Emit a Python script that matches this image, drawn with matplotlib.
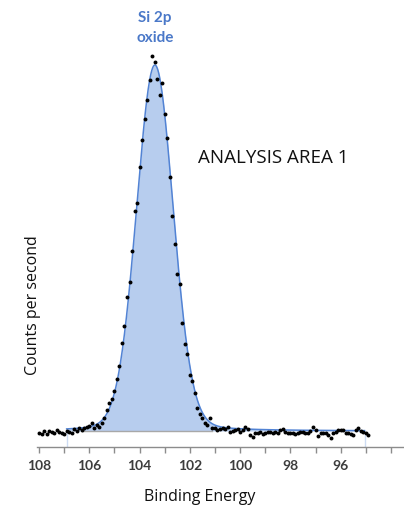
import numpy as np
import matplotlib.pyplot as plt

# Si 2p spectrum, 0.1 eV steps from 108.0 down to 94.9 eV
energy = [round(108.0 - 0.1 * i, 1) for i in range(132)]
counts = [
    358, 325, 408, 325, 393, 383, 358, 425, 375, 343,
    325, 408, 383, 350, 443, 408, 468, 425, 468, 493,
    525, 588, 468, 550, 508, 593,
    718, 925, 1108, 1208, 1393, 1693, 2033, 2608, 3025, 3743,
    4133, 4900, 5900, 6108, 6993, 7683, 8193, 8683, 9175, 9775,
    9625, 9200, 8808, 9108, 8318, 7725, 6743, 5783, 5075, 4325,
    4068, 3100, 2575, 2325, 1793, 1658, 1343, 968, 818, 718,
    608, 550, 733, 475, 468,
    425, 438, 468, 450, 508, 383, 400, 425, 443, 383,
    425, 508, 443, 300, 258, 358, 343, 375, 325, 358,
    383, 363, 343, 383, 358, 413, 443, 383, 343, 358,
    338, 325, 358, 375, 383, 358, 343, 400, 508, 425,
    275, 343, 358, 338, 300, 218, 343, 383, 413, 425,
    425, 358, 338, 325, 300, 425, 468, 408, 363, 343,
    300,
]

# fitted oxide component (Gaussian/Lorentzian sum) on a flat background
region = (106.9, 95.05)
bg_level = 400
peak_center = 103.39
peak_fwhm = 1.73
peak_height = 9150
lor_frac = 0.1

fit_x = np.linspace(region[0], region[1], 600)
d = (fit_x - peak_center) / peak_fwhm
gauss = np.exp(-4 * np.log(2) * d ** 2)
lor = 1 / (1 + 4 * d ** 2)
fit_y = bg_level + peak_height * ((1 - lor_frac) * gauss + lor_frac * lor)

fig = plt.figure(figsize=(4.04, 5.05), dpi=100)
ax = fig.add_axes([37 / 404, 58 / 505, 367 / 404, 447 / 505])

ax.fill_between(fit_x, bg_level, fit_y, color="#b7cdee", lw=0, zorder=1)
ax.plot(fit_x, fit_y, color="#5283d4", lw=1.1, zorder=2)
ax.plot([106.3, 101.1], [bg_level, bg_level], color="#a8a8a8", lw=1.0, zorder=2)
for e in region:
    ax.plot([e, e], [0, bg_level], color="#cddcf3", lw=1.0, zorder=1)

ax.scatter(energy, counts, s=8, color="black", zorder=3, linewidths=0)

ax.set_xlim(108.08, 93.48)
ax.set_ylim(0, 11175)

for side in ["left", "right", "top"]:
    ax.spines[side].set_visible(False)
ax.spines["bottom"].set_color("#8c8c8c")
ax.spines["bottom"].set_linewidth(1.0)
ax.set_yticks([])

ticks = list(range(108, 93, -1))
labels = [str(t) if (t % 2 == 0 and t >= 96) else "" for t in ticks]
ax.set_xticks(ticks)
ax.set_xticklabels(labels, fontfamily="Lato", fontweight="bold",
                   fontsize=10, color="#3c3c3c")
ax.tick_params(axis="x", length=4, width=1, color="#8c8c8c", pad=5)

fig.text(200 / 404, 1 - 497 / 505, "Binding Energy", ha="center", va="center",
         fontfamily="Open Sans", fontsize=11.5, color="#111111")
fig.text(33 / 404, 1 - 305 / 505, "Counts per second", ha="center", va="center",
         rotation=90, fontfamily="Open Sans", fontsize=11.5, color="#111111")
fig.text(273 / 404, 1 - 158 / 505, "ANALYSIS AREA 1", ha="center", va="center",
         fontfamily="Open Sans", fontsize=13.5, color="#111111")
fig.text(155 / 404, 1 - 18 / 505, "Si 2p", ha="center", va="center",
         fontfamily="Lato", fontweight="bold", fontsize=11, color="#4a78c8")
fig.text(155 / 404, 1 - 38 / 505, "oxide", ha="center", va="center",
         fontfamily="Lato", fontweight="bold", fontsize=11, color="#4a78c8")

fig.savefig("out.png", dpi=100)
